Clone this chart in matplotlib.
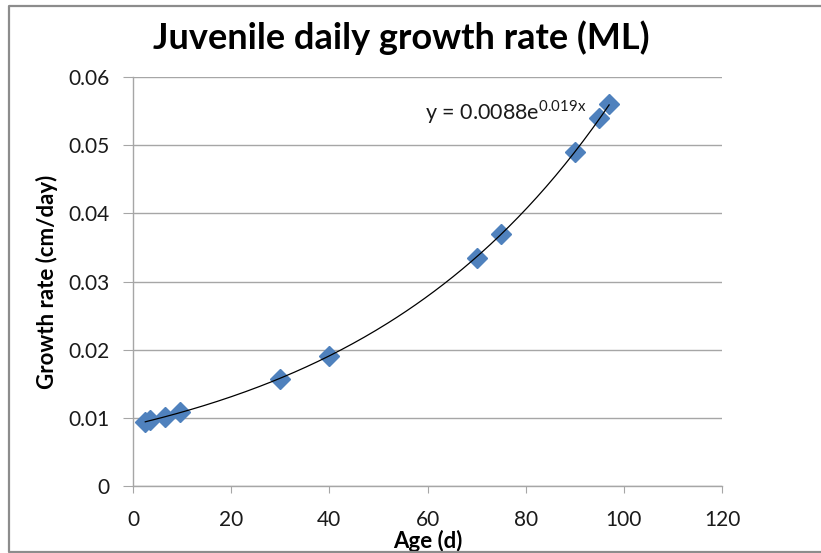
import numpy as np
import matplotlib
matplotlib.use("Agg")
import matplotlib.pyplot as plt
from matplotlib.lines import Line2D

# Data
age = [2.5, 3.5, 6.5, 9.5, 30, 40, 70, 75, 90, 95, 97]
growth = [0.0094, 0.0097, 0.0101, 0.0108, 0.0157, 0.019, 0.0335, 0.037, 0.049, 0.054, 0.056]
x_ticks = [0, 20, 40, 60, 80, 100, 120]
y_ticks = [0, 0.01, 0.02, 0.03, 0.04, 0.05, 0.06]
y_tick_labels = ["0", "0.01", "0.02", "0.03", "0.04", "0.05", "0.06"]
title = "Juvenile daily growth rate (ML)"
xlabel = "Age (d)"
ylabel = "Growth rate (cm/day)"

plt.rcParams['font.family'] = ['Lato', 'DejaVu Sans']
plt.rcParams['mathtext.fontset'] = 'custom'
plt.rcParams['mathtext.rm'] = 'Lato'

fig = plt.figure(figsize=(8.21, 5.53), dpi=100)
W, H = 821, 553
ax = fig.add_axes([133 / W, 1 - 486 / H, (722 - 133) / W, (486 - 77) / H])

# figure border: left, top, bottom (right side runs off the image)
xl, yt, yb = 9 / W, 1 - 6 / H, 1 - 552 / H
fig.add_artist(Line2D([1.0, xl, xl, 1.0], [yt, yt, yb, yb],
                      transform=fig.transFigure, color='#8c8c8c', linewidth=1.6))

ax.set_xlim(0, 120)
ax.set_ylim(0, 0.06)
ax.set_xticks(x_ticks)
ax.set_yticks(y_ticks)
ax.set_yticklabels(y_tick_labels)
ax.grid(axis='y', color='#a6a6a6', linewidth=1.0)
ax.set_axisbelow(True)
for s in ['top', 'right']:
    ax.spines[s].set_visible(False)
for s in ['left', 'bottom']:
    ax.spines[s].set_color('#a6a6a6')
    ax.spines[s].set_linewidth(1.0)
ax.tick_params(axis='y', direction='out', length=7, color='#a6a6a6',
               labelsize=15, labelcolor='#1a1a1a', pad=10)
ax.tick_params(axis='x', direction='out', length=5, color='#a6a6a6',
               labelsize=15, labelcolor='#1a1a1a', pad=12)

ax.plot(age, growth, linestyle='none', marker='D', markersize=10.5,
        color='#4f81bd', markeredgecolor='#4f81bd', zorder=3)

# exponential trendline fitted to the data
b, ln_a = np.polyfit(age, np.log(growth), 1)
a = np.exp(ln_a)
xs = np.linspace(min(age), max(age), 200)
ax.plot(xs, a * np.exp(b * xs), color='black', linewidth=0.9, zorder=4)

ax.annotate(r"y = 0.0088e$^{\mathrm{0.019x}}$", xy=(425, H - 112), xycoords='figure pixels',
            fontsize=15.5, color='#1a1a1a', ha='left', va='center',
            annotation_clip=False)

fig.text(401 / W, 1 - 38 / H, title, fontsize=26, fontweight='bold',
         ha='center', va='center')
ax.set_xlabel(xlabel, fontsize=16, fontweight='bold', labelpad=0)
ax.set_ylabel(ylabel, fontsize=16, fontweight='bold', labelpad=7)

fig.savefig("out.png", dpi=100)
